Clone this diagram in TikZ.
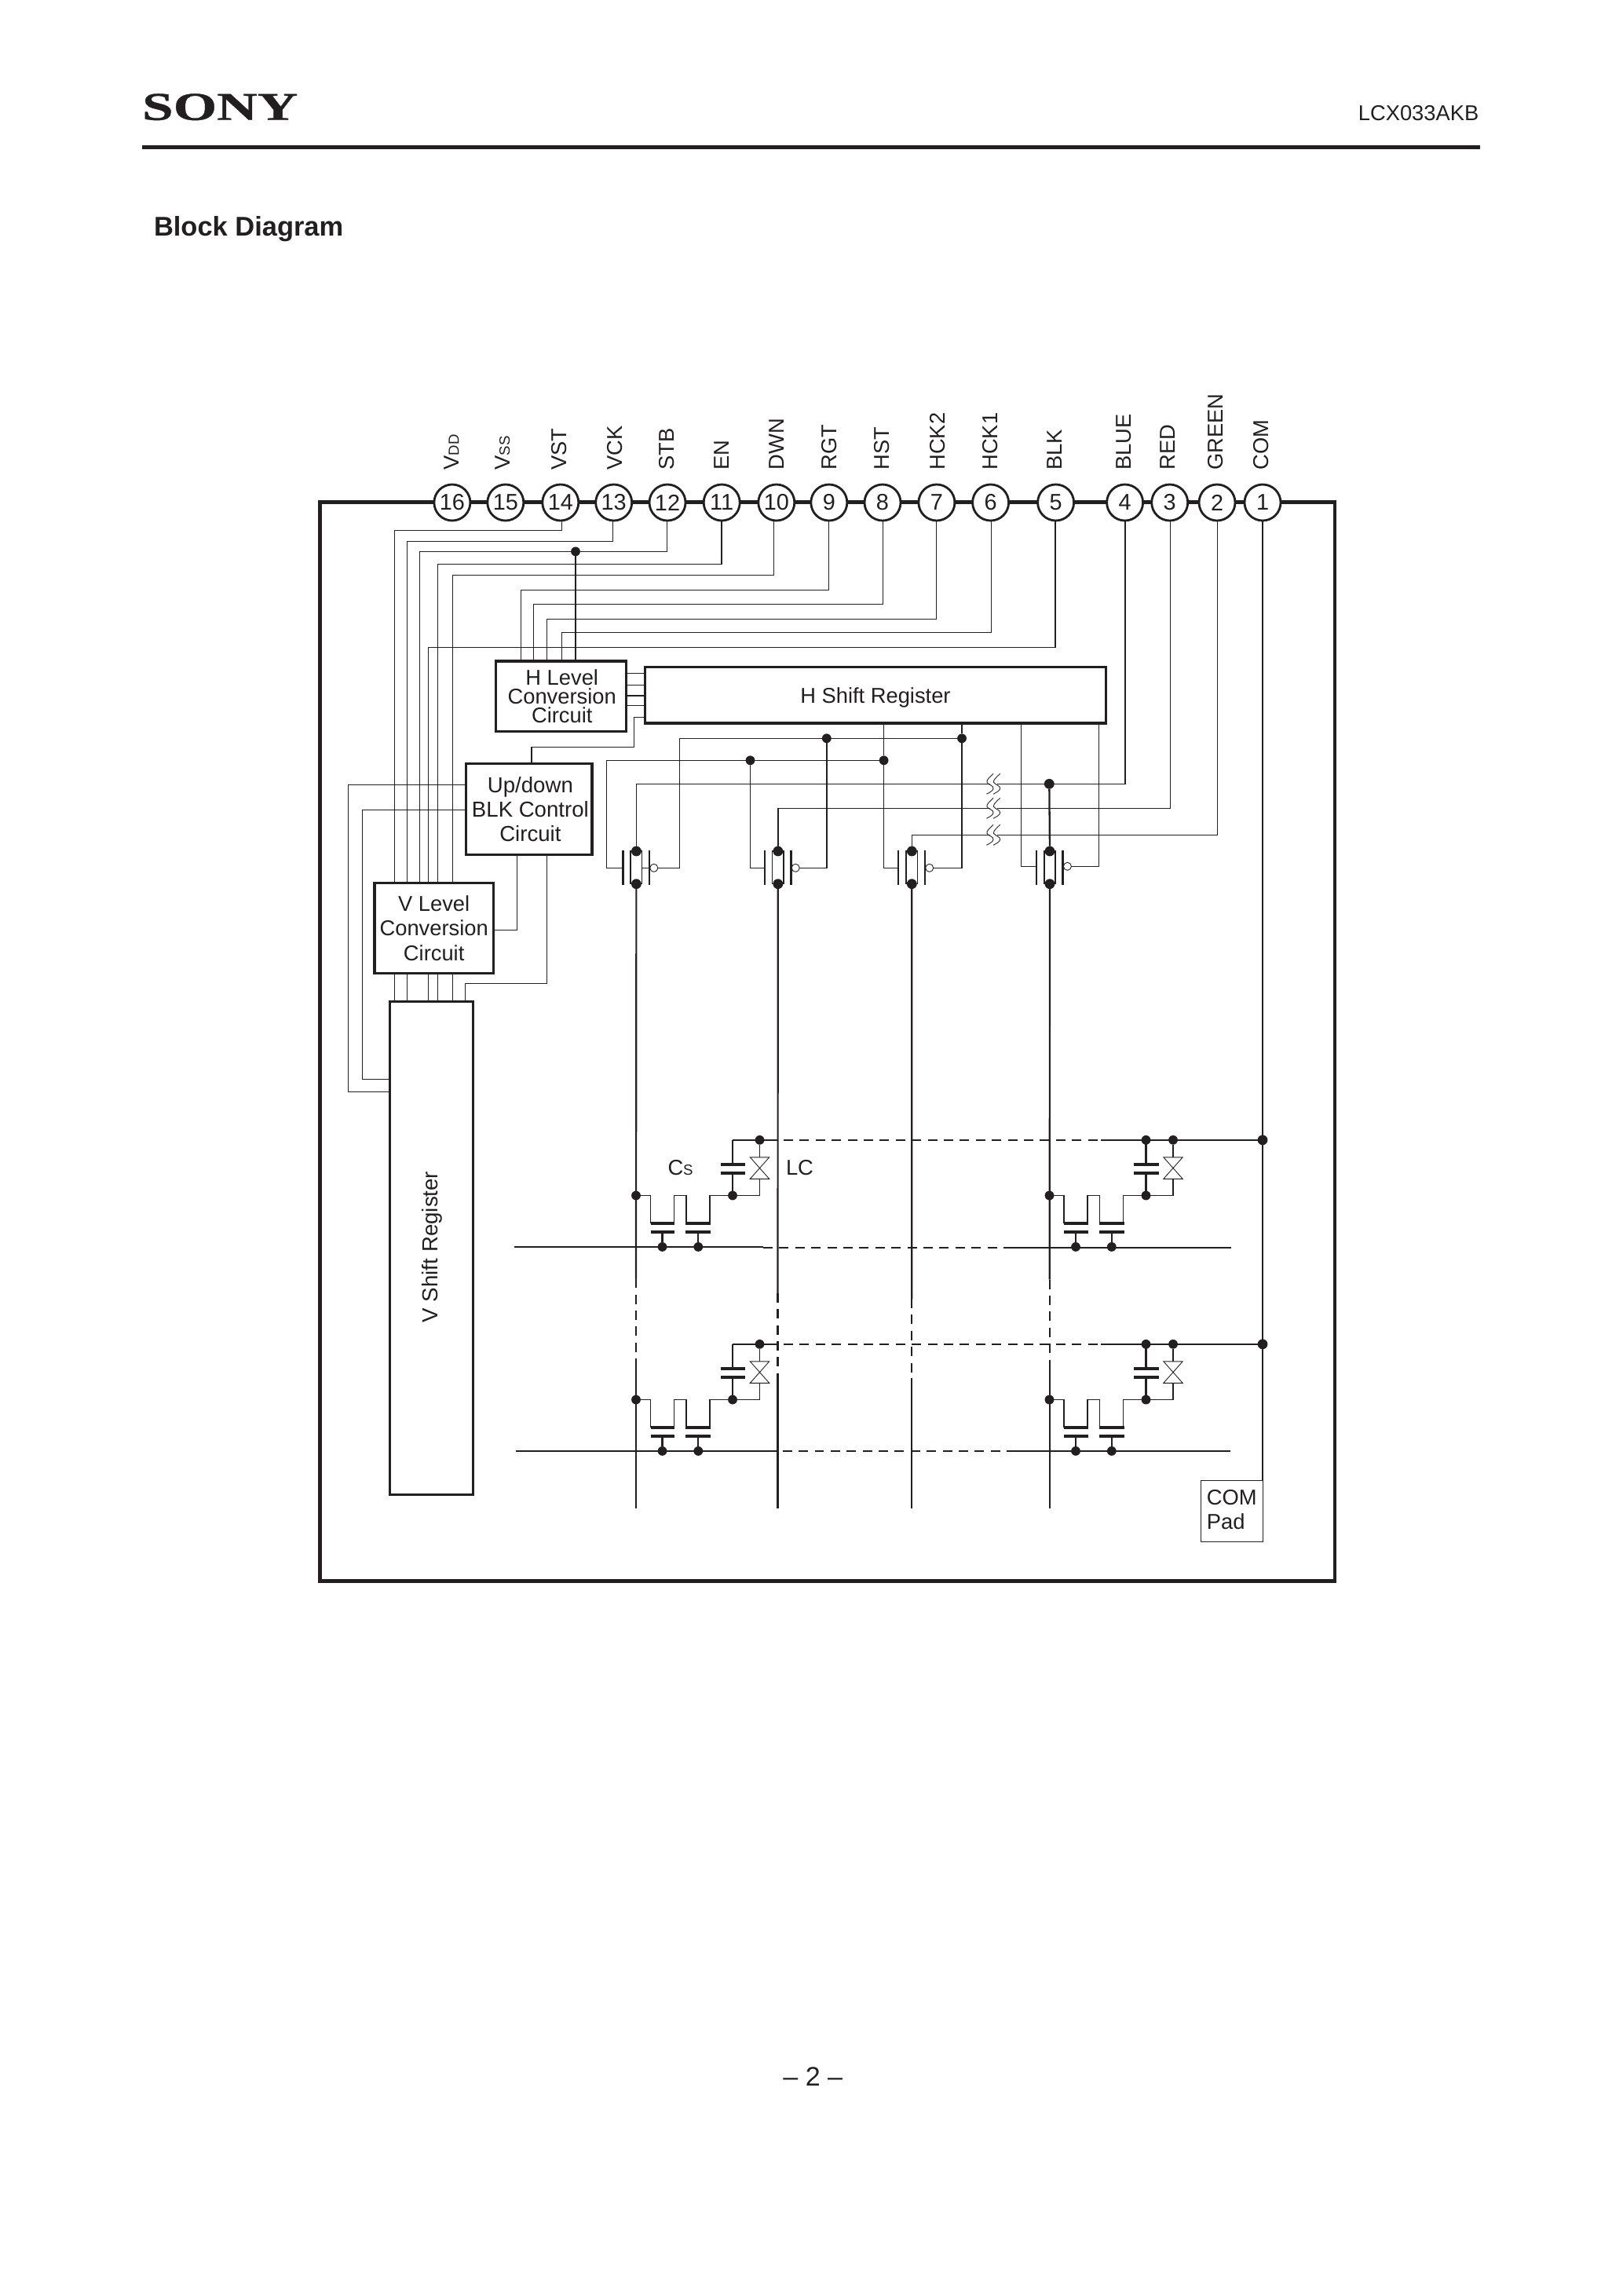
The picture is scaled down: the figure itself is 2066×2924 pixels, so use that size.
\documentclass[tikz,border=0pt]{standalone}
\usepackage{fontspec}
\usepackage{graphicx}
\setmainfont{Liberation Sans}
\newfontfamily\logofont[FakeStretch=1.42,BoldFeatures={FakeBold=0.7}]{Liberation Serif}
\definecolor{ink}{HTML}{231F20}
\newcommand\lblfont{\fontsize{7.77}{9}\selectfont}
\newcommand\smallcaps[1]{{\fontsize{5.3}{6}\selectfont #1}}
\newcommand\condword{\scalebox{1.0}[1]{Conversion}}
\tikzset{
  wire/.style={draw=ink,line width=.44pt},
  medw/.style={draw=ink,line width=.62pt},
  dashw/.style={draw=ink,line width=.62pt,dash pattern=on 3.4pt off 2.4pt},
  hair/.style={draw=ink,line width=.25pt},
  plate/.style={draw=ink,line width=1.15pt},
  gplate/.style={draw=ink,line width=.65pt},
  boxn/.style={draw=ink,fill=white,line width=1pt,inner sep=0pt,outer sep=0pt,rectangle,align=center,text depth=0pt},
  pinn/.style={draw=ink,fill=white,line width=.8pt,circle,inner sep=0pt,outer sep=0pt,minimum size=.46cm,font=\fontsize{8.2}{9}\selectfont},
  dotn/.style={fill=ink,draw=none,circle,inner sep=0pt,outer sep=0pt,minimum size=.118cm},
  bigdot/.style={minimum size=.128cm},
  bubble/.style={draw=ink,fill=white,line width=.25pt,circle,inner sep=0pt,outer sep=0pt,minimum size=.1cm},
  pinlab/.style={rotate=90,anchor=base west,inner sep=0pt,outer sep=0pt},
  freelab/.style={anchor=base west,inner sep=0pt,outer sep=0pt}
}
% box by its edges: style, name, left, top, right, bottom, text
\newcommand\pxbox[7][]{\node[boxn,#1,minimum width={(#5-#3)*0.01cm},minimum height={(#6-#4)*0.01cm}] (#2) at ({(#3+#5)/2},{(#4+#6)/2}) {#7};}
% transmission gate: name, x, y of the control wires
\newcommand\tgate[3]{%
  \draw[wire] (#2-7.2,1084) rectangle (#2+7.2,1125.7);
  \draw[gplate] (#2-17,1083.3) -- (#2-17,1126.7);
  \draw[gplate] (#2+16.6,1083.3) -- (#2+16.6,1126.7);
  \node[dotn,bigdot] (#1t) at (#2,1084) {};
  \node[dotn,bigdot] (#1b) at (#2,1125.7) {};
  \coordinate (#1L) at (#2-17,#3);
  \node[bubble] (#1B) at (#2+22.4,#3) {};
}
% pixel cell: name, x of its data line, y of its common line
\newcommand\pixelcell[3]{%
  \begin{scope}[shift={(#2,#3)}]
    \coordinate (#1c) at (123,0);
    \node[dotn] (#1d) at (0,70.7) {};
    \node[dotn] (#1s) at (123,70.7) {};
    \node[dotn] (#1l) at (157.5,0) {};
    \node[dotn] (#1g1) at (33.5,136.1) {};
    \node[dotn] (#1g2) at (79.3,136.1) {};
    \draw[wire] (#1d) -| (18.6,106.5);
    \draw[plate] (18.6,106.5) -- (49,106.5);
    \draw[plate] (18.6,117.2) -- (49,117.2);
    \draw[medw] (33.5,117.2) -- (#1g1);
    \draw[wire] (48.5,106.5) |- (64,70.7) -- (64,106.5);
    \draw[plate] (63,106.5) -- (95,106.5);
    \draw[plate] (63,117.2) -- (95,117.2);
    \draw[medw] (79.3,117.2) -- (#1g2);
    \draw[wire] (94,106.5) |- (#1s);
    \draw[medw] (#1c) -- (123,31.5);
    \draw[plate] (107.5,31.5) -- (139,31.5);
    \draw[plate] (107.5,42.5) -- (139,42.5);
    \draw[medw] (123,42.5) -- (#1s);
    \draw[wire] (#1s) -| (157.5,49.5);
    \draw[wire] (#1l) -- (157.5,22);
    \draw[hair] (145.3,22) -- (169.7,22) -- (145.3,49.5) -- (169.7,49.5) -- cycle;
  \end{scope}
}
% break mark across a wire at height y
\newcommand\wavebreak[1]{%
  \begin{scope}[shift={(0,#1)}]
    \fill[white] (1260.5,-1.5) rectangle (1270,1.5);
    \foreach \dx in {0,8.6}{
      \draw[hair,xshift=\dx*0.01cm] (1265,-13) .. controls (1260,-8) and (1256,-5) .. (1257,-2) .. controls (1258,1) and (1266,2) .. (1265,6) .. controls (1264.5,9) and (1260,11) .. (1256.4,13);
    }
  \end{scope}
}
\begin{document}
\begin{tikzpicture}[x=0.01cm,y=-0.01cm,every node/.append style={text=ink,font=\lblfont}]
\useasboundingbox (0,0) rectangle (2066,2924);
\fill[white] (0,0) rectangle (2066,2924);

% page furniture
\node[freelab,font=\logofont\bfseries\fontsize{14.3}{16}\selectfont] (sony) at (181,152.7) {SONY};
\node[inner sep=0pt,anchor=base east] (part) at (1884,153.3) {LCX033AKB};
\fill[ink] (180.7,184.6) rectangle (1885,190);
\node[freelab,font=\bfseries\fontsize{9.8}{11}\selectfont] (title) at (196,300) {Block Diagram};
\node[inner sep=0pt,anchor=base,font=\fontsize{9.7}{11}\selectfont] (page) at (1035.3,2656.7) {– 2 –};

% outer frame
\draw[ink,line width=1.2pt] (407.6,639.5) rectangle (1700,2013.5);
\coordinate (frame) at (407.6,639.5);

% pins
\foreach \n/\x in {16/575.9,15/643.8,14/713.8,13/781.7,12/850,11/919.2,10/988.8,9/1055.8,8/1124,7/1192.9,6/1261.6,5/1344.6,4/1432.6,3/1489.7,2/1550,1/1608}{
  \node[pinn] (p\n) at (\x,640) {\n};
}
% pin labels
\foreach \n/\x/\t in {16/584.4/{V\smallcaps{DD}},15/649/{V\smallcaps{SS}},14/721.4/VST,13/792/VCK,12/858.5/STB,11/928/EN,10/998.2/DWN,9/1065.6/RGT,8/1132/HST,7/1203.6/HCK2,6/1270.5/HCK1,5/1352/BLK,4/1440.6/BLUE,3/1496.4/RED,2/1557.6/GREEN,1/1615.6/COM}{
  \node[pinlab] (lb\n) at (\x,598.5) {\t};
}

% blocks
\pxbox[font=\fontsize{7.77}{6.83}\selectfont]{hl}{631.7}{842}{797.3}{931.3}{\hspace*{.7pt}H Level\\\hspace*{.7pt}\condword\\\hspace*{.7pt}Circuit}
\pxbox{hs}{821.4}{849.3}{1408.5}{921}{H Shift Register}
\pxbox[font=\fontsize{7.85}{8.88}\selectfont]{ud}{593.3}{972.3}{754}{1088.3}{\hspace*{1pt}Up/down\\\hspace*{1pt}BLK Control\\\hspace*{1pt}Circuit}
\pxbox[font=\fontsize{7.77}{8.95}\selectfont]{vl}{476.8}{1124.3}{628.6}{1239.3}{V Level\\\condword\\Circuit}
\pxbox{vs}{496.4}{1275.4}{602.3}{1903.3}{}
\node[pinlab,anchor=base,font=\fontsize{7.88}{9}\selectfont] (vslab) at (557.7,1588) {V Shift Register};
\node[draw=ink,line width=.44pt,fill=white,rectangle,inner sep=0pt,outer sep=0pt,align=left,text depth=1.1pt,font=\fontsize{7.77}{9}\selectfont,minimum width=0.79cm,minimum height=0.779cm] (pad) at (1568.8,1924.4) {COM\\Pad};

% turning points and columns of the pin wires
\foreach \n/\x/\y in {14/715.6/675.7,13/780.4/689.3,12/849.6/702.3,11/918.8/718.3,10/985.3/732.3,9/1055.4/751.3,8/1124.6/769.3,7/1192.4/788.3,6/1262.5/805.3,5/1343.8/824.3}{
  \coordinate (t\n) at (\x,\y);
}
\foreach \n/\x in {14/502.5,13/518.3,12/534.4,5/545.4,11/557.5,10/576.3}{
  \coordinate (x\n) at (\x,0);
  \draw[wire] (p\n.south -| t\n) -- (t\n) -| (x\n |- vl.north);
}
\foreach \n/\x in {9/663.4,8/679.5,7/696.4,6/715.6}{
  \coordinate (x\n) at (\x,0);
  \draw[wire] (p\n.south -| t\n) -- (t\n) -| (x\n |- hl.north);
}
% V Level to V Shift Register
\foreach \n in {14,13,5,11,10}{
  \draw[wire] (x\n |- vl.south) -- (x\n |- vs.north);
}
% STB junction into H Level
\node[dotn] (jstb) at (733,702.3) {};
\draw[medw] (jstb) -- (jstb |- hl.north);

% H Level to H Shift Register
\foreach \y in {857.7,872.7,886,898.7}{
  \draw[wire] (hl.east |- 0,\y) -- (hs.west |- 0,\y);
}
% H Shift Register to Up/down
\coordinate (hsud) at (807.6,913.3);
\coordinate (udtop) at (677.2,951.3);
\draw[wire] (hs.west |- hsud) -- (hsud) |- (udtop) -- (udtop |- ud.north);
% Up/down to V Shift Register, left
\coordinate (ud1) at (443.3,999.3);
\coordinate (ud2) at (461.6,1031.3);
\coordinate (vs1) at (443.3,1390.3);
\coordinate (vs2) at (461.6,1374.3);
\draw[wire] (ud.west |- ud1) -- (ud1) -- (vs1) -- (vs.west |- vs1);
\draw[wire] (ud.west |- ud2) -- (ud2) -- (vs2) -- (vs.west |- vs2);
% Up/down to V Level and to V Shift Register
\coordinate (ud3) at (658.5,1184.3);
\draw[wire] (ud3 |- ud.south) -- (ud3) -- (vl.east |- ud3);
\coordinate (ud4) at (696.4,1252.3);
\coordinate (ud5) at (592.3,1252.3);
\draw[wire] (ud4 |- ud.south) -- (ud4) -- (ud5) -- (ud5 |- vs.north);

% transmission gates
\tgate{ga}{810.4}{1105.3}
\tgate{gb}{990.8}{1105.3}
\tgate{gc}{1161.3}{1105.3}
\tgate{gd}{1337}{1103.3}
\draw[wire] (817.6,1105.3) -- (827,1105.3);

% clock nets
\node[dotn] (jb1) at (955.5,968.3) {};
\node[dotn] (jb2) at (1125.6,968.3) {};
\node[dotn] (ja1) at (1052.8,940.3) {};
\node[dotn] (ja2) at (1225,940.3) {};
\coordinate (ca) at (865.4,940.3);
\coordinate (cb) at (772.5,968.3);
\draw[wire] (cb) -- (jb2);
\draw[wire] (ca) -- (ja2);
\draw[wire] (jb2 |- hs.south) -- (jb2);
\draw[wire] (ja2 |- hs.south) -- (ja2);
\draw[wire] (cb) |- (gaL);
\draw[wire] (ca) |- (gaB.east);
\draw[wire] (jb1) |- (gbL);
\draw[wire] (ja1) |- (gbB.east);
\draw[wire] (jb2) |- (gcL);
\draw[wire] (ja2) |- (gcB.east);
\coordinate (cc) at (1300.6,1103.3);
\coordinate (cd) at (1399.3,1103.3);
\draw[wire] (cc |- hs.south) -- (cc) -- (gdL);
\draw[wire] (cd |- hs.south) -- (cd) -- (gdB.east);

% video nets
\node[dotn,bigdot] (jblue) at (1336.3,998.3) {};
\coordinate (blue) at (1432.8,998.3);
\coordinate (red) at (1490.5,1029.3);
\coordinate (green) at (1550.4,1063.3);
\draw[wire] (blue |- p4.south) -- (blue) -- (gat |- blue) -- (gat);
\draw[wire] (red |- p3.south) -- (red) -- (gbt |- red) -- (gbt);
\draw[wire] (green |- p2.south) -- (green) -- (gct |- green) -- (gct);
\draw[draw=ink,line width=.65pt] (jblue) -- (gdt);
\wavebreak{998.3}
\wavebreak{1029.3}
\wavebreak{1063.3}

% COM net
\draw[wire] (p1.south) -- (p1.south |- pad.north);

% pixel cells
\pixelcell{aa}{810}{1451.8}
\pixelcell{ab}{1336.5}{1451.8}
\pixelcell{ba}{810}{1711.8}
\pixelcell{bb}{1336.5}{1711.8}
\node[dotn] (abt) at (1459.5,1451.8) {};
\node[dotn] (bbt) at (1459.5,1711.8) {};
\node[dotn,bigdot] (jc1) at (1608,1451.8) {};
\node[dotn,bigdot] (jc2) at (1608,1711.8) {};
\node[freelab] (cslab) at (850.5,1496) {C\smallcaps{S}};
\node[freelab] (lclab) at (1001,1496) {LC};

% common lines
\foreach \r/\y in {a/1451.8,b/1711.8}{
  \coordinate (r\r1) at (990.7,\y);
  \coordinate (r\r2) at (998,\y);
  \coordinate (r\r3) at (1401.7,\y);
}
\draw[medw] (aac) -- (ra1); \draw[dashw] (ra2) -- (ra3); \draw[medw] (ra3) -- (jc1);
\draw[medw] (bac) -- (rb1); \draw[dashw] (rb2) -- (rb3); \draw[medw] (rb3) -- (jc2);

% gate lines
\coordinate (gl1) at (655,1587.9);
\coordinate (gl2) at (972,1587.9);
\coordinate (gl3) at (1283.3,1588.6);
\coordinate (gl4) at (1567.7,1588.6);
\draw[medw] (gl1) -- (gl2); \draw[dashw] (972,1588.6) -- (gl3); \draw[medw] (gl3) -- (gl4);
\coordinate (gm1) at (656.7,1847.9);
\coordinate (gm2) at (990,1847.9);
\coordinate (gm3) at (1293.3,1847.9);
\coordinate (gm4) at (1566.7,1847.9);
\draw[medw] (gm1) -- (gm2); \draw[dashw] (996.7,1847.9) -- (gm3); \draw[medw] (gm3) -- (gm4);

% data lines
\foreach \g/\x/\a/\b in {ga/810/1628.2/1740,gb/990.5/1646.8/1757,gc/1161.2/1654/1755,gd/1336.7/1629.6/1739.5}{
  \coordinate (\g d1) at (\x,\a);
  \coordinate (\g d2) at (\x,\b);
  \coordinate (\g d3) at (\x,1920.5);
  \draw[medw] (\g b) -- (\g d1);
  \draw[dashw] (\g d1) -- (\g d2);
  \draw[medw] (\g d2) -- (\g d3);
}
\end{tikzpicture}
\end{document}
